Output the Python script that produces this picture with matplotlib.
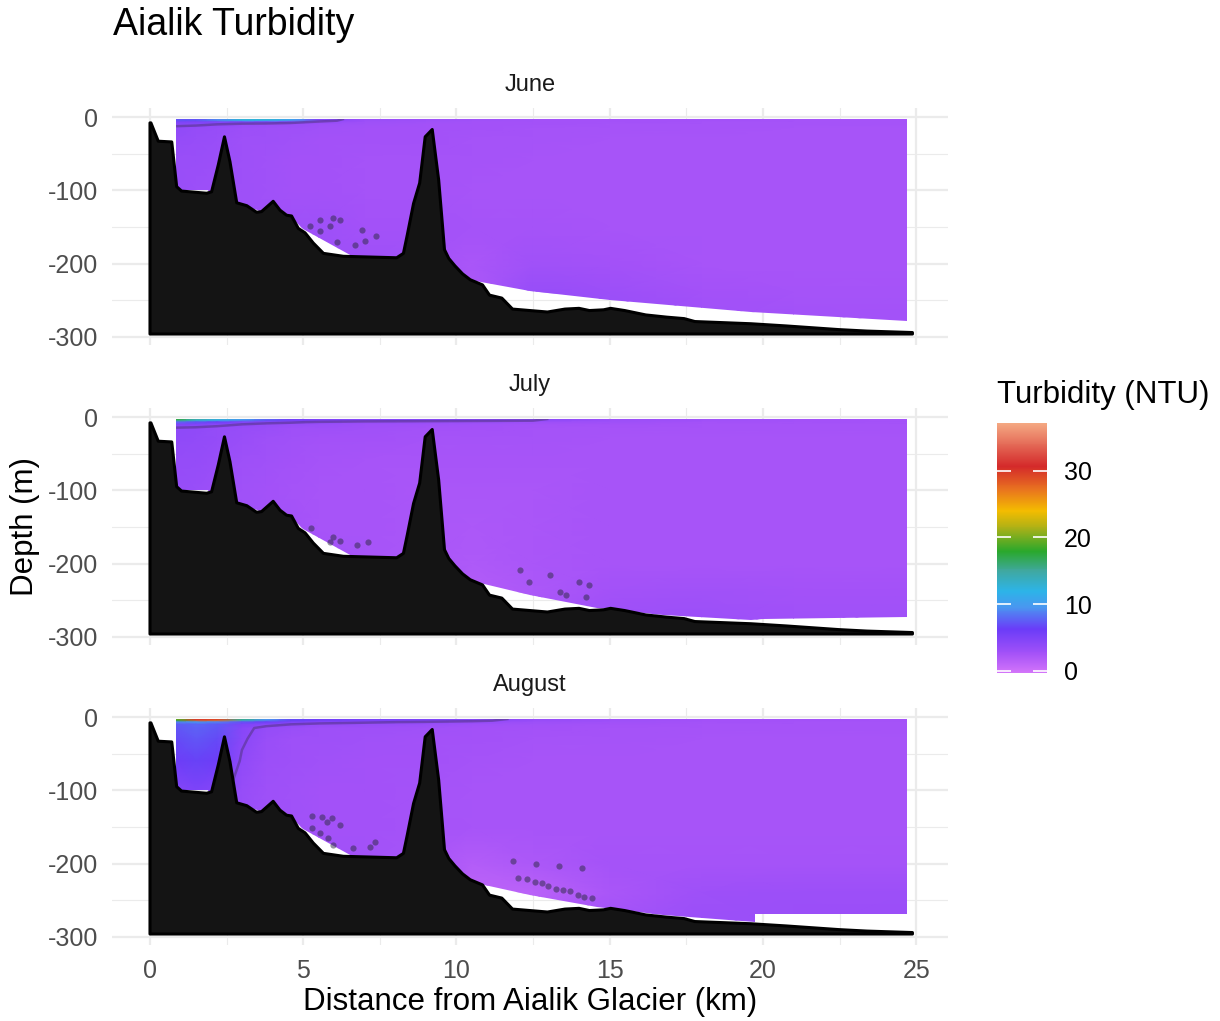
import numpy as np
import matplotlib
matplotlib.use("Agg")
import matplotlib.pyplot as plt
from matplotlib.colors import LinearSegmentedColormap, Normalize
from matplotlib.patches import Polygon
from matplotlib.cm import ScalarMappable

plt.rcParams['font.family'] = ['Liberation Sans', 'DejaVu Sans']
plt.rcParams['axes.unicode_minus'] = False

months = ["June", "July", "August"]

# bathymetry along the section (km, m)
bathy_x = [0.0, 0.03, 0.27, 0.71, 0.87, 1.03, 1.85, 2.01, 2.23, 2.43, 2.61, 2.83, 3.16, 3.48, 3.64,
           4.02, 4.24, 4.46, 4.62, 4.84, 5.06, 5.33, 5.66, 6.31, 8.05, 8.27, 8.4, 8.6, 8.8, 8.98,
           9.21, 9.42, 9.61, 9.75, 9.95, 10.2, 10.45, 10.85, 11.08, 11.48, 11.83, 12.97, 13.54, 14.0,
           14.34, 14.8, 15.03, 15.49, 16.18, 16.86, 17.43, 17.78, 19.61, 20.76, 22.48, 23.39, 24.88]
bathy_d = [-8, -8, -33, -34, -95, -101, -104, -102, -65, -27, -61, -117, -121, -130, -129,
           -115, -127, -134, -135, -152, -158, -172, -186, -190, -192, -186, -160, -118, -90, -27,
           -17, -86, -181, -193, -203, -214, -222, -229, -243, -247, -262, -266, -262, -261,
           -264, -263, -261, -264, -270, -273, -275, -279, -282, -285, -290, -292, -294]

# lower edge of the sampled area per month
bot_x = {
    "June":   [0.85, 1.0, 1.9, 2.1, 2.8, 3.5, 3.65, 4.0, 4.6, 5.0, 6.6, 8.2, 9.7, 10.45, 12.4, 15.0, 19.6, 24.7],
    "July":   [0.85, 1.0, 1.9, 2.1, 2.8, 3.5, 3.65, 4.0, 4.6, 5.0, 6.6, 8.2, 9.7, 10.5, 10.77, 12.4, 14.58, 16.75, 19.6, 20.0, 24.7],
    "August": [0.85, 1.0, 1.9, 2.1, 2.8, 3.5, 3.65, 4.0, 4.6, 5.0, 6.6, 8.2, 9.7, 10.5, 10.77, 12.4, 14.58, 16.75, 19.74, 19.75, 24.7],
}
bot_d = {
    "June":   [-92, -99, -100, -110, -116, -127, -130, -118, -137, -153, -190, -196, -205, -222, -237, -249, -266, -278],
    "July":   [-92, -99, -100, -110, -116, -127, -130, -118, -137, -153, -190, -196, -205, -222, -227, -243, -260, -270.6, -277, -275, -272.5],
    "August": [-92, -99, -100, -110, -116, -127, -130, -118, -137, -153, -190, -196, -205, -222, -228, -243, -259.5, -270, -279, -268.6, -268.6],
}

# turbidity profiles (NTU): rows = depths, columns = stations
st_x = [0.85, 1.5, 2.2, 3.0, 3.8, 4.6, 5.5, 7.0, 9.0, 10.5, 12.5, 15.0, 18.0, 21.0, 24.7]
depths = [-2.5, -5, -7, -10, -15, -30, -60, -100, -150, -200, -240, -300]

turb_jun = [
    [7, 7, 9, 13, 13, 11, 5, 3.2, 2.9, 2.8, 2.7, 2.6, 2.6, 2.5, 2.5],
    [7, 7, 9, 12, 12, 10, 4.6, 3.1, 2.9, 2.8, 2.7, 2.6, 2.6, 2.5, 2.5],
    [5, 5, 5, 5, 5, 4.5, 3.6, 3.0, 2.8, 2.7, 2.6, 2.6, 2.5, 2.5, 2.5],
    [4.2, 4.2, 4, 3.6, 3.4, 3.2, 3.0, 2.8, 2.7, 2.6, 2.6, 2.5, 2.5, 2.5, 2.5],
    [3.8, 3.6, 3.4, 3.1, 3.0, 2.9, 2.8, 2.7, 2.6, 2.6, 2.5, 2.5, 2.5, 2.4, 2.4],
    [3.5, 3.4, 3.2, 3.0, 2.9, 2.8, 2.7, 2.6, 2.6, 2.5, 2.5, 2.4, 2.4, 2.4, 2.4],
    [3.3, 3.2, 3.1, 2.9, 2.8, 2.7, 2.6, 2.5, 2.5, 2.5, 2.4, 2.4, 2.4, 2.3, 2.3],
    [3.2, 3.1, 3.0, 2.9, 2.8, 2.7, 2.6, 2.5, 2.5, 2.4, 2.4, 2.4, 2.3, 2.3, 2.3],
    [3.0, 3.0, 3.0, 3.0, 3.0, 2.9, 2.9, 2.7, 2.6, 2.5, 2.5, 2.4, 2.3, 2.3, 2.3],
    [3.0, 3.0, 3.0, 3.0, 3.0, 3.0, 3.0, 2.9, 2.7, 2.2, 2.8, 2.6, 2.4, 2.4, 2.4],
    [3.0, 3.0, 3.0, 3.0, 3.0, 3.0, 3.0, 3.0, 3.0, 2.0, 3.4, 3.1, 2.6, 2.5, 2.5],
    [3.0, 3.0, 3.0, 3.0, 3.0, 3.0, 3.0, 3.0, 3.0, 3.0, 3.8, 3.6, 3.0, 2.8, 2.7],
]
turb_jul = [
    [18, 15, 13, 11, 8, 6, 5, 4.6, 4.5, 4.4, 4.2, 3.2, 2.8, 2.6, 2.5],
    [16, 13, 11, 9, 7, 5.5, 4.8, 4.4, 4.3, 4.2, 4.0, 3.1, 2.8, 2.6, 2.5],
    [8, 7, 6, 5, 4.5, 4.2, 3.8, 3.6, 3.4, 3.3, 3.1, 2.9, 2.7, 2.6, 2.5],
    [5, 4.8, 4.4, 4.0, 3.6, 3.4, 3.2, 3.0, 2.9, 2.8, 2.7, 2.6, 2.5, 2.5, 2.5],
    [3.9, 3.8, 3.6, 3.4, 3.2, 3.0, 2.9, 2.8, 2.7, 2.6, 2.5, 2.5, 2.5, 2.5, 2.5],
    [3.8, 3.7, 3.5, 3.2, 3.0, 2.8, 2.7, 2.6, 2.5, 2.5, 2.5, 2.4, 2.4, 2.4, 2.4],
    [3.6, 3.5, 3.3, 3.0, 2.8, 2.6, 2.5, 2.4, 2.4, 2.3, 2.3, 2.3, 2.3, 2.3, 2.3],
    [3.4, 3.3, 3.0, 2.8, 2.6, 2.5, 2.4, 2.3, 2.2, 2.2, 2.2, 2.3, 2.3, 2.3, 2.3],
    [3.0, 3.0, 2.9, 2.8, 2.7, 2.6, 2.4, 2.3, 2.2, 2.1, 2.2, 2.3, 2.3, 2.3, 2.3],
    [3.0, 3.0, 3.0, 3.0, 3.0, 2.9, 2.6, 2.4, 2.2, 1.9, 2.2, 2.4, 2.4, 2.4, 2.4],
    [3.0, 3.0, 3.0, 3.0, 3.0, 3.0, 3.0, 3.0, 3.0, 1.6, 2.0, 2.6, 2.8, 2.7, 2.6],
    [3.0, 3.0, 3.0, 3.0, 3.0, 3.0, 3.0, 3.0, 3.0, 3.0, 2.8, 3.2, 3.3, 3.0, 2.9],
]
turb_aug = [
    [20, 31, 30, 16, 10, 7, 6, 5.5, 5.2, 4.6, 3.6, 3.0, 2.7, 2.6, 2.5],
    [18, 29, 28, 14, 9, 6.5, 5.6, 5.2, 4.8, 4.3, 3.4, 2.9, 2.7, 2.6, 2.5],
    [9, 10, 9, 7, 6, 5.2, 4.6, 4.2, 3.8, 3.5, 3.1, 2.8, 2.6, 2.5, 2.5],
    [7.4, 7.8, 7.4, 5, 4.4, 4.0, 3.6, 3.4, 3.2, 3.0, 2.8, 2.6, 2.5, 2.5, 2.5],
    [7.2, 7.6, 7.2, 4.4, 3.6, 3.2, 3.0, 2.9, 2.8, 2.7, 2.6, 2.5, 2.5, 2.5, 2.5],
    [6.8, 7.2, 6.8, 4.2, 3.3, 3.0, 2.9, 2.8, 2.7, 2.6, 2.5, 2.5, 2.4, 2.4, 2.4],
    [6.0, 6.4, 6.0, 3.8, 3.1, 2.9, 2.8, 2.7, 2.6, 2.5, 2.4, 2.4, 2.4, 2.4, 2.4],
    [4.6, 5.0, 4.6, 3.4, 3.0, 2.8, 2.7, 2.6, 2.5, 2.4, 2.4, 2.4, 2.4, 2.4, 2.4],
    [3.5, 3.5, 3.5, 3.2, 3.0, 2.8, 2.7, 2.6, 2.5, 2.4, 2.4, 2.4, 2.4, 2.4, 2.4],
    [3.0, 3.0, 3.0, 3.0, 3.0, 3.0, 2.8, 2.6, 2.3, 1.6, 2.0, 2.5, 2.5, 2.5, 2.5],
    [3.0, 3.0, 3.0, 3.0, 3.0, 3.0, 3.0, 3.0, 3.0, 1.0, 1.2, 2.2, 2.9, 3.1, 3.1],
    [3.0, 3.0, 3.0, 3.0, 3.0, 3.0, 3.0, 3.0, 3.0, 2.0, 2.4, 3.0, 3.3, 3.3, 3.3],
]
turb = {"June": turb_jun, "July": turb_jul, "August": turb_aug}

# dark specks seen in the section
dot_x = {
    "June": [5.22, 5.55, 5.55, 5.87, 5.98, 6.2, 6.11, 6.69, 6.91, 7.02, 7.37],
    "July": [5.25, 5.87, 5.98, 6.2, 6.75, 7.12, 12.07, 12.37, 13.05, 13.38, 13.58, 14.0, 14.34, 14.22],
    "August": [5.28, 5.6, 5.77, 5.93, 6.2, 5.28, 5.55, 5.82, 5.98, 6.64, 7.18, 7.34,
               12.02, 12.29, 12.57, 12.78, 13.0, 13.25, 13.49, 13.71, 13.95, 14.15, 14.42,
               11.86, 12.6, 13.33, 14.09],
}
dot_d = {
    "June": [-149, -141, -156, -149, -138, -141, -171, -175, -154, -169, -162],
    "July": [-152, -170, -163, -169, -175, -170, -209, -225, -216, -239, -243, -225, -229, -246],
    "August": [-135, -137, -143, -138, -147, -152, -158, -165, -175, -179, -177, -171,
               -219, -221, -225, -227, -230, -234, -236, -238, -243, -245, -247,
               -197, -200, -203, -206],
}

cb_vals = [-0.35, 2.5, 6.2, 9.5, 11.9, 14.9, 17.9, 21.3, 24.0, 27.3, 30.7, 37.15]
cb_cols = ['#D274F9', '#A452F8', '#6A3CF8', '#4A96F0', '#2CB4E8', '#40A8A0', '#2AA82C',
           '#A8B018', '#F4BC00', '#E87020', '#D42A2A', '#F4A882']
vmin, vmax = cb_vals[0], cb_vals[-1]
cmap = LinearSegmentedColormap.from_list(
    "turb", [((v - vmin) / (vmax - vmin), c) for v, c in zip(cb_vals, cb_cols)])
norm = Normalize(vmin, vmax)

W, H = 1220, 1021
fig = plt.figure(figsize=(W / 100, H / 100), dpi=100)

def box(x0, y0, x1, y1):
    return [x0 / W, 1 - y1 / H, (x1 - x0) / W, (y1 - y0) / H]

tops = [108, 408, 708]
for i, m in enumerate(months):
    top = tops[i]
    ax = fig.add_axes(box(112, top, 948, top + 237))
    ax.set_xlim(-1.24, 26.04)
    ax.set_ylim(-311, 12.3)
    for s in ax.spines.values():
        s.set_visible(False)
    ax.set_axisbelow(True)
    ax.set_xticks([0, 5, 10, 15, 20, 25])
    ax.set_xticks([2.5, 7.5, 12.5, 17.5, 22.5], minor=True)
    ax.set_yticks([0, -100, -200, -300])
    ax.set_yticks([-50, -150, -250], minor=True)
    ax.set_yticklabels(["0", "-100", "-200", "-300"])
    ax.set_xticklabels(["0", "5", "10", "15", "20", "25"])
    ax.grid(which='major', color='#EBEBEB', lw=1.6)
    ax.grid(which='minor', color='#EBEBEB', lw=0.8)
    ax.tick_params(which='both', length=0)
    ax.tick_params(axis='y', pad=10, labelsize=18, labelcolor='#4D4D4D')
    ax.tick_params(axis='x', pad=10, labelsize=18, labelcolor='#4D4D4D', labelbottom=(i == 2))

    bx = bot_x[m]
    bd = bot_d[m]
    verts = [(bx[0], -2.5), (bx[-1], -2.5)] + list(zip(bx[::-1], bd[::-1]))
    clip = Polygon(verts, closed=True, transform=ax.transData, fc='none', ec='none')
    ax.add_patch(clip)

    V = np.array(turb[m])
    mesh = ax.pcolormesh(st_x, depths, V, shading='gouraud', cmap=cmap, norm=norm, zorder=1)
    mesh.set_clip_path(clip)
    cs = ax.contour(st_x, depths, V, levels=[4], colors='#222222', alpha=0.3, linewidths=1.8, zorder=1.5)
    cs.set_clip_path(clip)

    ax.scatter(dot_x[m], dot_d[m], s=20, color='#2A2A40', alpha=0.5, lw=0, zorder=2)

    px_ = bathy_x + [bathy_x[-1], 0.0]
    pd_ = bathy_d + [-296, -296]
    ax.fill(px_, pd_, facecolor='#141414', edgecolor='black', lw=2.2, zorder=3, joinstyle='round')

    fig.text(530 / W, 1 - (top - 23) / H, m, ha='center', va='center', size=17, color='#1A1A1A')

fig.text(113 / W, 1 - 25 / H, "Aialik Turbidity", ha='left', va='center', size=27)
fig.text(530 / W, 1 - 1002 / H, "Distance from Aialik Glacier (km)", ha='center', va='center', size=22.5)
fig.text(25 / W, 1 - 526 / H, "Depth (m)", rotation=90, ha='center', va='center', size=22.5)

cax = fig.add_axes(box(997, 423, 1047, 673))
cb = fig.colorbar(ScalarMappable(norm=norm, cmap=cmap), cax=cax)
cb.outline.set_visible(False)
cb.set_ticks([0, 10, 20, 30])
cb.minorticks_off()
cax.yaxis.set_ticks_position('both')
cax.tick_params(direction='in', length=10, width=1.2, color='white', labelcolor='black',
                labelsize=18, pad=12, left=True, right=True, labelleft=False, labelright=True)
fig.text(997 / W, 1 - 395 / H, "Turbidity (NTU)", ha='left', va='center', size=22.5)

fig.savefig("out.png", dpi=100)
